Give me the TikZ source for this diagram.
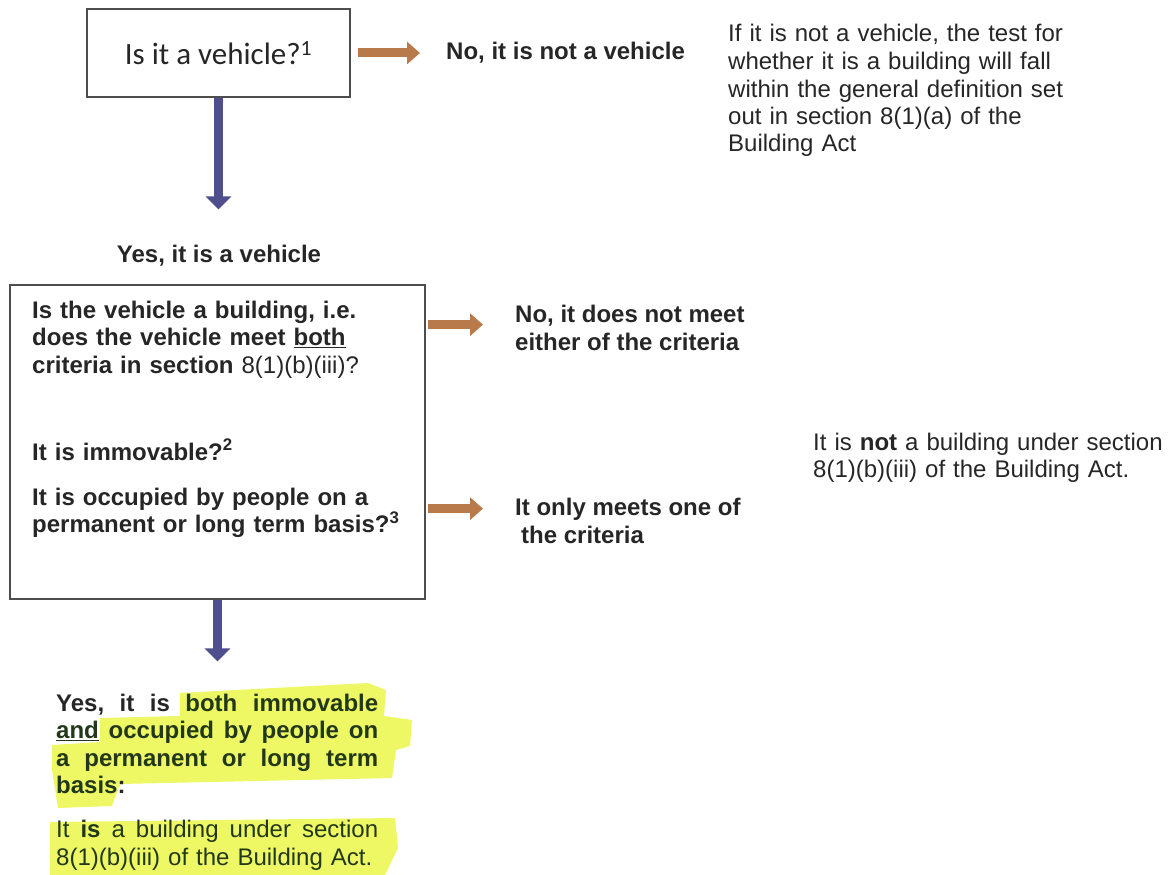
\documentclass[tikz,border=0pt]{standalone}
\usepackage{fontspec}
\setmainfont{Liberation Sans}
\newfontfamily\calfont{Carlito}
\usetikzlibrary{arrows.meta,calc}
\definecolor{txt}{HTML}{262626}
\definecolor{hgreen}{HTML}{22381A}
\definecolor{hyel}{HTML}{EEF864}
\definecolor{brn}{HTML}{B97A4B}
\definecolor{blu}{HTML}{4F4F8E}
\definecolor{boxc}{HTML}{4D4D4D}
\begin{document}
\begin{tikzpicture}[x=1pt,y=-1pt,
  box/.style={draw=boxc, line width=1.4pt, inner sep=0pt},
  lbl/.style={font=\fontsize{24}{27.5}\selectfont, text=txt, inner sep=0pt, anchor=base west, align=left},
  bl/.style={lbl, font=\fontsize{24}{27.5}\selectfont\bfseries},
  brarrow/.style={draw=brn, line width=9pt, -{Triangle[length=13pt,width=22pt]}},
  blarrow/.style={draw=blu, line width=9.5pt, -{Triangle[length=13pt,width=25pt]}},
  hl/.style={fill=hyel, draw=none}]
\useasboundingbox (0,0) rectangle (1168,875);

% highlights
\fill[hl] (180,693) -- (368,683) -- (386,690) -- (384,716) -- (412,720) -- (410,746)
  -- (396,750) -- (392,778) -- (120,784) -- (112,806) -- (58,808) -- (52,770)
  -- (52,745) -- (100,742) -- (100,718) -- (180,716) -- cycle;
\fill[hl] (50,822) -- (395,818) -- (398,848) -- (385,875) -- (50,875) -- cycle;

% first question
\node[box, minimum width=263pt, minimum height=88pt, font=\calfont\fontsize{31}{34}\selectfont, text=txt] (q1) at (218.5,53) {Is it a vehicle?\textsuperscript{1}};
\node[bl] (no1) at (446,60) {No, it is not a vehicle};
\node[lbl, text width=360pt] (note1) at (728,42) {If it is not a vehicle, the test for\\
whether it is a building will fall\\
within the general definition set\\
out in section 8(1)(a) of the\\
Building Act};
\draw[brarrow] ([xshift=7pt]q1.east) -- ([xshift=-26pt]no1.west |- q1.east);

\node[bl, anchor=base] (yes1) at (219,262) {Yes, it is a vehicle};
\draw[blarrow, shorten >=35pt] (q1.south) -- (q1.south |- yes1.north);

% second question
\node[box, minimum width=415pt, minimum height=314pt] (q2) at (217.5,442) {};
\node[bl, text width=390pt] (q2t) at (32,318) {Is the vehicle a building, i.e.\\
does the vehicle meet \underline{both}\\
criteria in section {\mdseries 8(1)(b)(iii)?}\\[59.5pt]
It is immovable?\textsuperscript{2}\\[17.5pt]
It is occupied by people on a\\
permanent or long term basis?\textsuperscript{3}};

\node[bl] (no2) at (515,350) {No, it does not meet\\ either of the criteria};
\node[bl] (no3) at (515,543) {It only meets one of\\ \hspace*{6pt}the criteria};
\draw[brarrow] ($(q2.east |- no2.west)+(2,-3)$) -- ($(no2.west)+(-32,-3)$);
\draw[brarrow] ($(q2.east |- no3.west)+(2,-12)$) -- ($(no3.west)+(-32,-12)$);

\node[lbl, text width=360pt] (notb) at (813,450) {It is \textbf{not} a building under section\\
8(1)(b)(iii) of the Building Act.};

% answer
\node[bl, text width=322pt, text=hgreen] (ans) at (56,711) {%
{\color{txt}Yes,}\hfill {\color{txt}it}\hfill {\color{txt}is}\hfill both\hfill immovable\\
\underline{and}\hfill occupied\hfill by\hfill people\hfill on\\
a\hfill permanent\hfill or\hfill long\hfill term\\
basis{\color{txt}:}\\[16.5pt]
\mdseries It\hfill \textbf{is}\hfill a\hfill building\hfill under\hfill section\\
\mdseries 8(1)(b)(iii) of the Building Act.};
\draw[blarrow, shorten >=32pt] (q2.south) -- (q2.south |- ans.north);
\end{tikzpicture}
\end{document}
